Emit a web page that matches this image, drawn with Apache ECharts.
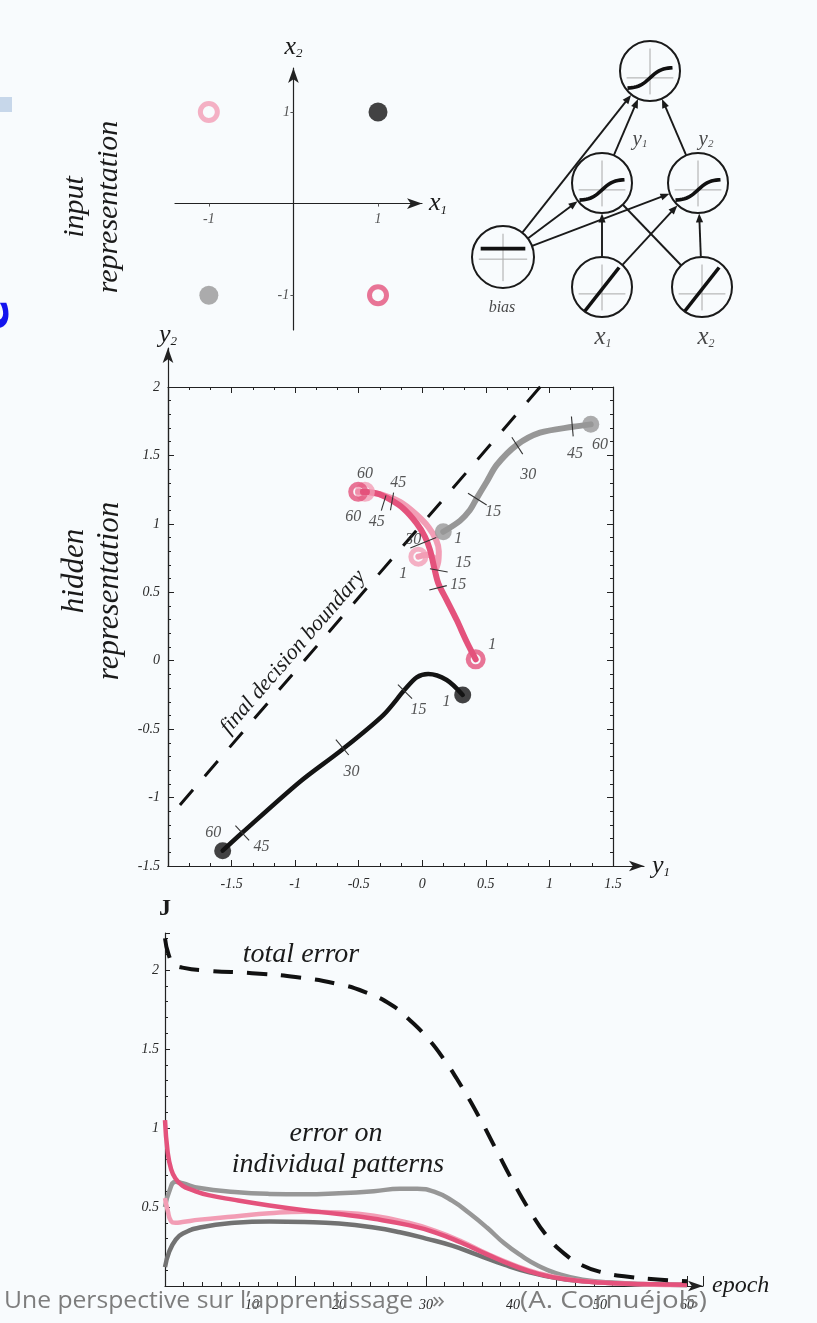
<!DOCTYPE html>
<html><head><meta charset="utf-8">
<script src="https://cdn.jsdelivr.net/npm/echarts@6/dist/echarts.min.js"></script>
<style>html,body{margin:0;padding:0;background:#f8fbfd;}#c{width:817px;height:1323px;}</style>
</head><body><div id="c"></div><script>
// ---------- DATA ----------
// input representation (XOR patterns)
const inputX = [-1, 1, -1, 1];
const inputY = [1, 1, -1, -1];
const inputTicks = [-1, 1];
// network diagram (layout units)
const nodeX = [2.47, 1.99, 2.95, 1.0, 1.99, 2.99];
const nodeY = [3.0, 1.963, 1.963, 1.278, 1.0, 1.0];
const nodeKind = ['sigmoid', 'sigmoid', 'sigmoid', 'bias', 'linear', 'linear'];
const edgeFrom = [3, 3, 3, 4, 4, 5, 5, 1, 2];
const edgeTo = [0, 1, 2, 1, 2, 1, 2, 0, 0];
const edgeArrow = [1, 1, 1, 1, 1, 0, 1, 1, 1];
const netLabelText = ['bias', 'x1', 'x2', 'y1', 'y2'];
const netLabelX = [0.99, 2.0, 3.03, 2.37, 3.03];
const netLabelY = [0.81, 0.53, 0.53, 2.37, 2.37];
// hidden representation trajectories (y1, y2)
const trajLightPink = [[-0.031,0.76],[0.04,0.775],[0.1,0.74],[0.105,0.667],[0.125,0.72],[0.13,0.8],[0.11,0.88],[0.05,0.975],[-0.055,1.075],[-0.175,1.16],[-0.307,1.21],[-0.451,1.234]];
const trajRedPink = [[0.42,0.01],[0.349,0.139],[0.271,0.297],[0.192,0.443],[0.126,0.565],[0.092,0.687],[0.061,0.809],[0.021,0.906],[-0.044,1.004],[-0.149,1.113],[-0.254,1.179],[-0.359,1.223],[-0.504,1.234]];
const trajGray = [[0.165,0.942],[0.297,1.023],[0.375,1.101],[0.428,1.186],[0.507,1.308],[0.585,1.43],[0.743,1.576],[0.926,1.666],[1.183,1.709],[1.325,1.727]];
const trajBlack = [[0.318,-0.25],[0.192,-0.141],[0.047,-0.097],[-0.044,-0.121],[-0.136,-0.209],[-0.307,-0.397],[-0.634,-0.652],[-0.962,-0.884],[-1.421,-1.261],[-1.57,-1.388]];
const boundaryLine = [[-1.906,-1.054],[0.939,2.014]];
// epoch tick marks on trajectories: [y1, y2, angle(deg), half length px]
const epochTicks = [[-0.136,-0.226,45,10],[-0.629,-0.633,50,10],[-1.416,-1.259,47,10],
  [0.433,1.181,32,11],[0.747,1.571,57,10],[1.18,1.712,85,10],
  [-0.304,1.152,-73,8],[-0.238,1.164,-80,9],[0.13,0.66,10,9],[0.124,0.533,-14,9],[0.008,0.862,-22,14]];
const hiddenLabelText = ['1','15','30','45','60', '1','15','30','45','60', '60','60','45','45','30','1','15','15','1'];
const hiddenLabelX = [0.19,-0.03,-0.556,-1.264,-1.644, 0.283,0.559,0.834,1.201,1.398, -0.451,-0.543,-0.189,-0.359,-0.071,-0.149,0.323,0.283,0.551];
const hiddenLabelY = [-0.30,-0.36,-0.81,-1.36,-1.26, 0.894,1.088,1.356,1.51,1.576, 1.364,1.052,1.30,1.015,0.882,0.638,0.716,0.553,0.115];
const hiddenXTicks = [-1.5,-1,-0.5,0,0.5,1,1.5];
const hiddenYTicks = [-1.5,-1,-0.5,0,0.5,1,1.5,2];
// error curves (epoch, J)
const errTotal = [[0,2.2],[0.4,2.1],[1,2.04],[2,2.015],[5,1.995],[10,1.98],[15,1.955],[20,1.91],[23,1.86],[26,1.78],[28,1.69],[30,1.58],[32,1.44],[34,1.27],[36,1.08],[38,0.87],[40,0.66],[42,0.47],[44,0.31],[46,0.2],[48,0.13],[50,0.09],[53,0.06],[57,0.04],[60,0.03]];
const errRedPink = [[0,1.05],[0.3,0.85],[0.7,0.74],[1.2,0.68],[2,0.635],[3,0.61],[5,0.575],[8,0.545],[12,0.51],[16,0.48],[20,0.455],[24,0.425],[28,0.385],[31,0.34],[34,0.275],[37,0.2],[40,0.13],[43,0.075],[46,0.043],[50,0.022],[55,0.012],[60,0.008]];
const errLightPink = [[0,0.556],[0.3,0.48],[0.7,0.41],[1.2,0.4],[2,0.405],[4,0.42],[8,0.44],[12,0.46],[16,0.47],[20,0.465],[24,0.445],[28,0.4],[31,0.35],[34,0.285],[37,0.205],[40,0.135],[43,0.08],[46,0.045],[50,0.022],[55,0.01],[60,0.006]];
const errGrayUpper = [[0,0.5],[0.5,0.6],[1.2,0.66],[2,0.65],[4,0.62],[8,0.595],[12,0.583],[16,0.58],[20,0.587],[24,0.6],[27,0.615],[29,0.615],[31,0.595],[33,0.54],[35,0.46],[37,0.37],[39,0.27],[41,0.19],[43,0.125],[45,0.08],[48,0.04],[52,0.02],[56,0.01],[60,0.007]];
const errGrayLower = [[0,0.12],[0.5,0.22],[1.2,0.29],[2,0.33],[4,0.37],[8,0.4],[12,0.408],[16,0.405],[20,0.395],[24,0.37],[27,0.34],[30,0.3],[33,0.255],[36,0.195],[39,0.135],[42,0.085],[45,0.05],[48,0.03],[52,0.016],[56,0.009],[60,0.006]];
const errXLabels = [10,20,30,40,50,60];
const errYLabels = [0.5,1,1.5,2];

// ---------- STYLE ----------
const SERIF = "'Liberation Serif','DejaVu Serif',serif";
const BG = '#f8fbfd';
const C = { lightPink:'#f29db5', redPink:'#e4527c', gray:'#979797', grayDark:'#727272', black:'#141414' };
const inputColor = [C.lightPink, C.black, C.gray, C.redPink];
const inputHollow = [true, false, false, true];
const lblStyle = (fs) => ({ fontFamily:SERIF, fontStyle:'italic', fontSize:fs, color:'#2a2a2a' });
const subRich = (big, small) => ({
  v:{ fontFamily:SERIF, fontStyle:'italic', fontSize:big, color:'#1a1a1a' },
  s:{ fontFamily:SERIF, fontStyle:'italic', fontSize:small, color:'#1a1a1a', verticalAlign:'bottom' }
});
const subText = (t) => /^[a-z][0-9]$/.test(t) ? '{v|' + t[0] + '}{s|' + t[1] + '}' : t;
const axisCol = '#222';

const chart = echarts.init(document.getElementById('c'), null, { renderer:'canvas' });

function renderNode(params, api) {
  const c = api.coord([api.value(0), api.value(1)]);
  const kind = api.value(2);
  const r = kind === 1 ? 31 : 30;
  const dy = kind === 1 ? 0.07 * r : 0.23 * r;
  const children = [
    { type:'circle', shape:{ cx:c[0], cy:c[1], r:r }, style:{ fill:BG, stroke:'#1a1a1a', lineWidth:2 } },
    { type:'line', shape:{ x1:c[0]-0.78*r, y1:c[1]+dy, x2:c[0]+0.78*r, y2:c[1]+dy }, style:{ stroke:'#a8a8a8', lineWidth:1 } },
    { type:'line', shape:{ x1:c[0], y1:c[1]-0.75*r, x2:c[0], y2:c[1]+0.78*r }, style:{ stroke:'#a8a8a8', lineWidth:1 } }
  ];
  let pts = [];
  if (kind === 0) {
    for (let i = 0; i <= 20; i++) { const t = -1 + i / 10; pts.push([c[0] + 0.75*r*t, c[1] + dy - 0.34*r*Math.tanh(2*t)/Math.tanh(2)]); }
  } else if (kind === 1) {
    pts = [[c[0]-0.72*r, c[1]-0.27*r], [c[0]+0.72*r, c[1]-0.27*r]];
  } else {
    pts = [[c[0]-0.57*r, c[1]+0.8*r], [c[0]+0.57*r, c[1]-0.65*r]];
  }
  children.push({ type:'polyline', shape:{ points:pts }, style:{ stroke:'#111', lineWidth:3.6, fill:null } });
  return { type:'group', children };
}
function renderEdge(params, api) {
  const f = api.value(0), t = api.value(1), arrow = api.value(2);
  const a = api.coord([nodeX[f], nodeY[f]]);
  const b = api.coord([nodeX[t], nodeY[t]]);
  const dx = b[0]-a[0], dy = b[1]-a[1], L = Math.hypot(dx, dy), ux = dx/L, uy = dy/L;
  const r = 30.5;
  const s = [a[0]+ux*r, a[1]+uy*r], e = [b[0]-ux*r, b[1]-uy*r];
  const head = arrow ? 9 : 0;
  const children = [{ type:'line', shape:{ x1:s[0], y1:s[1], x2:e[0]-ux*head*0.6, y2:e[1]-uy*head*0.6 }, style:{ stroke:'#1a1a1a', lineWidth:1.9 } }];
  if (arrow) {
    const bx = e[0]-ux*head, by = e[1]-uy*head;
    children.push({ type:'polygon', shape:{ points:[[e[0],e[1]],[bx-uy*3.6,by+ux*3.6],[bx+uy*3.6,by-ux*3.6]] }, style:{ fill:'#1a1a1a' } });
  }
  return { type:'group', children };
}
function renderTick(params, api) {
  const p = api.coord([api.value(0), api.value(1)]);
  const a = api.value(2) * Math.PI / 180, h = api.value(3);
  return { type:'line', shape:{ x1:p[0]-Math.cos(a)*h, y1:p[1]-Math.sin(a)*h, x2:p[0]+Math.cos(a)*h, y2:p[1]+Math.sin(a)*h }, style:{ stroke:'#333', lineWidth:1.1 } };
}

const kindIndex = { sigmoid:0, bias:1, linear:2 };
const endMarkers = (traj, color, hollow, size) => ({
  type:'scatter', xAxisIndex:2, yAxisIndex:2, symbol:'circle', symbolSize:size, z:6,
  data:[traj[0], traj[traj.length-1]],
  itemStyle: hollow ? { color:'rgba(0,0,0,0)', borderColor:color, borderWidth:5 } : { color:color }
});
const trajLine = (traj, color, w) => ({
  type:'line', xAxisIndex:2, yAxisIndex:2, data:traj, smooth:0.3, symbol:'none', z:4,
  lineStyle:{ color:color, width:w, cap:'round', join:'round' }
});
const errLine = (d, color, w, dash) => ({
  type:'line', xAxisIndex:5, yAxisIndex:5, data:d, smooth:0.5, symbol:'none', z:4,
  lineStyle:{ color:color, width:w, type: dash || 'solid', cap:'butt', join:'round' }
});

// footer pieces (text fitted to the reference's widths)
const footerFont = '24px "Open Sans"';
const mctx = document.createElement('canvas').getContext('2d');
mctx.font = footerFont;
const footerPieces = [
  { text:'Une perspective sur l\u2019apprentissage', x:4, w:409 },
  { text:'\u00bb', x:432, w:13 },
  { text:'(A. Cornu\u00e9jols)', x:520, w:187 }
];
const footerGraphics = footerPieces.map(p => ({
  type:'text', x:p.x, y:1301, scaleX: p.w / mctx.measureText(p.text).width, z:100,
  style:{ text:p.text, font:footerFont, fill:'#7d7d7d', align:'left', verticalAlign:'middle' }
}));

const option = {
  backgroundColor: BG,
  animation: false,
  grid: [
    { left:175, top:68, width:247, height:262 },
    { left:403, top:6.2, width:400, height:388.8 },
    { left:168, top:387, width:445, height:479 },
    { left:168, top:348, width:476, height:518 },
    { left:165, top:933, width:538, height:353 }
  ],
  xAxis: [
    { gridIndex:0, type:'value', min:-1.4, max:1.52,
      axisLine:{ onZero:true, symbol:['none','arrow'], symbolSize:[8,15], lineStyle:{ color:axisCol, width:1.2 } },
      axisTick:{ customValues:inputTicks, length:3, lineStyle:{ color:'#555' } },
      axisLabel:{ show:false },
      splitLine:{ show:false },
      name:subText('x1'), nameLocation:'end', nameGap:7, nameTextStyle:{ rich:subRich(26,13) } },
    { gridIndex:1, type:'value', min:0, max:4, show:false },
    { gridIndex:2, type:'value', min:-2, max:1.5, interval:0.5, position:'bottom',
      axisLine:{ onZero:false, lineStyle:{ color:axisCol, width:1.2 } },
      axisTick:{ inside:true, length:6, lineStyle:{ color:axisCol } },
      minorTick:{ show:true, splitNumber:3, length:3, lineStyle:{ color:axisCol } },
      axisLabel:{ customValues:hiddenXTicks, margin:11, ...lblStyle(14) },
      splitLine:{ show:false } },
    { gridIndex:2, type:'value', min:-2, max:1.5, interval:0.5, position:'top',
      axisLine:{ onZero:false, lineStyle:{ color:axisCol, width:1.2 } },
      axisTick:{ inside:true, length:6, lineStyle:{ color:axisCol } },
      minorTick:{ show:true, splitNumber:3, length:3, lineStyle:{ color:axisCol } },
      axisLabel:{ show:false }, splitLine:{ show:false } },
    { gridIndex:3, type:'value', min:-2, max:1.744,
      axisLine:{ onZero:false, symbol:['none','arrow'], symbolSize:[8,15], lineStyle:{ color:axisCol, width:1.2 } },
      axisTick:{ show:false }, axisLabel:{ show:false }, splitLine:{ show:false },
      name:subText('y1'), nameLocation:'end', nameGap:8, nameTextStyle:{ rich:subRich(26,13) } },
    { gridIndex:4, type:'value', min:0, max:61.84, interval:15,
      axisLine:{ onZero:false, symbol:['none','arrow'], symbolSize:[8,15], lineStyle:{ color:axisCol, width:1.2 } },
      axisTick:{ inside:true, length:10, lineStyle:{ color:axisCol } },
      minorTick:{ show:true, splitNumber:7, length:4, lineStyle:{ color:axisCol } },
      axisLabel:{ customValues:errXLabels, margin:12, ...lblStyle(14) },
      splitLine:{ show:false },
      name:'epoch', nameLocation:'end', nameGap:9, nameTextStyle:{ fontFamily:SERIF, fontStyle:'italic', fontSize:24, color:'#1a1a1a' } }
  ],
  yAxis: [
    { gridIndex:0, type:'value', min:-1.38, max:1.48,
      axisLine:{ onZero:true, symbol:['none','arrow'], symbolSize:[8,15], lineStyle:{ color:axisCol, width:1.2 } },
      axisTick:{ customValues:inputTicks, length:3, lineStyle:{ color:'#555' } },
      axisLabel:{ show:false },
      splitLine:{ show:false },
      name:subText('x2'), nameLocation:'end', nameGap:8, nameTextStyle:{ rich:subRich(26,13) } },
    { gridIndex:1, type:'value', min:0, max:3.6, show:false },
    { gridIndex:2, type:'value', min:-1.5, max:2, interval:0.5, position:'left',
      axisLine:{ onZero:false, lineStyle:{ color:axisCol, width:1.2 } },
      axisTick:{ inside:true, length:6, lineStyle:{ color:axisCol } },
      minorTick:{ show:true, splitNumber:5, length:3, lineStyle:{ color:axisCol } },
      axisLabel:{ customValues:hiddenYTicks, margin:8, ...lblStyle(14) },
      splitLine:{ show:false } },
    { gridIndex:2, type:'value', min:-1.5, max:2, interval:0.5, position:'right',
      axisLine:{ onZero:false, lineStyle:{ color:axisCol, width:1.2 } },
      axisTick:{ inside:true, length:6, lineStyle:{ color:axisCol } },
      minorTick:{ show:true, splitNumber:5, length:3, lineStyle:{ color:axisCol } },
      axisLabel:{ show:false }, splitLine:{ show:false } },
    { gridIndex:3, type:'value', min:-1.5, max:2.284,
      axisLine:{ onZero:false, symbol:['none','arrow'], symbolSize:[8,15], lineStyle:{ color:axisCol, width:1.2 } },
      axisTick:{ show:false }, axisLabel:{ show:false }, splitLine:{ show:false },
      name:subText('y2'), nameLocation:'end', nameGap:0, nameTextStyle:{ rich:subRich(26,13) } },
    { gridIndex:4, type:'value', min:0, max:2.234, interval:0.5,
      axisLine:{ onZero:false, lineStyle:{ color:axisCol, width:1.2 } },
      axisTick:{ inside:true, length:5, lineStyle:{ color:axisCol } },
      minorTick:{ show:true, splitNumber:5, length:3, lineStyle:{ color:axisCol } },
      axisLabel:{ customValues:errYLabels, margin:6, ...lblStyle(14) },
      splitLine:{ show:false },
      name:'J', nameLocation:'end', nameGap:12, nameTextStyle:{ fontFamily:SERIF, fontWeight:'bold', fontSize:24, color:'#1a1a1a' } }
  ],
  series: [
    // input representation
    { type:'scatter', xAxisIndex:0, yAxisIndex:0, symbol:'circle', z:5,
      data: inputX.map((x, i) => ({ value:[x, inputY[i]], symbolSize: inputHollow[i] ? 17 : 19,
        itemStyle: inputHollow[i] ? { color:'rgba(0,0,0,0)', borderColor:inputColor[i], borderWidth:5 } : { color:inputColor[i] } })) },
    // input tick labels next to the crossing axes
    { type:'scatter', xAxisIndex:0, yAxisIndex:0, symbolSize:0, z:5,
      data: inputTicks.map(v => ({ value:[v, 0], name:String(v), label:{ offset:[0, 16] } }))
        .concat(inputTicks.map(v => ({ value:[0, v], name:String(v), label:{ offset:[v < 0 ? -10 : -7, 0] } }))),
      label:{ show:true, position:'inside', formatter:'{b}', ...lblStyle(14) } },
    // network
    { type:'custom', xAxisIndex:1, yAxisIndex:1, renderItem:renderEdge, clip:false, z:3,
      data: edgeFrom.map((f, i) => [f, edgeTo[i], edgeArrow[i]]) },
    { type:'custom', xAxisIndex:1, yAxisIndex:1, renderItem:renderNode, clip:false, z:4,
      data: nodeX.map((x, i) => [x, nodeY[i], kindIndex[nodeKind[i]]]) },
    { type:'scatter', xAxisIndex:1, yAxisIndex:1, symbolSize:0, z:5,
      data: netLabelText.map((t, i) => ({ value:[netLabelX[i], netLabelY[i]], name:t,
        label:{ show:true, position:'inside', formatter: subText(t),
          rich: t === 'bias' ? {} : subRich(t[0] === 'x' ? 25 : 21, t[0] === 'x' ? 12 : 11),
          fontFamily:SERIF, fontStyle:'italic', fontSize:16, color:'#1a1a1a' } })) },
    // hidden representation
    { type:'line', xAxisIndex:2, yAxisIndex:2, data:boundaryLine, symbol:'none', z:2,
      lineStyle:{ color:'#111', width:3, type:[20,18], cap:'butt' } },
    trajLine(trajLightPink, C.lightPink, 6),
    trajLine(trajRedPink, C.redPink, 6),
    trajLine(trajGray, C.gray, 6),
    trajLine(trajBlack, C.black, 4.5),
    endMarkers(trajLightPink, C.lightPink, true, 15),
    endMarkers(trajRedPink, C.redPink, true, 15),
    endMarkers(trajGray, C.gray, false, 17),
    endMarkers(trajBlack, C.black, false, 17),
    { type:'custom', xAxisIndex:2, yAxisIndex:2, renderItem:renderTick, z:7, data:epochTicks },
    { type:'scatter', xAxisIndex:2, yAxisIndex:2, symbolSize:0, z:8,
      data: hiddenLabelText.map((t, i) => ({ value:[hiddenLabelX[i], hiddenLabelY[i]], name:t })),
      label:{ show:true, position:'inside', formatter:'{b}', ...lblStyle(16) } },
    // error curves
    errLine(errGrayLower, C.grayDark, 4.5),
    errLine(errGrayUpper, C.gray, 4.5),
    errLine(errLightPink, C.lightPink, 4.5),
    errLine(errRedPink, C.redPink, 4.5),
    errLine(errTotal, '#111', 4, [20,14])
  ],
  graphic: [
    { type:'rect', shape:{ x:0, y:97, width:12, height:15 }, style:{ fill:'#c7d7ea' } },
    { type:'text', x:-4, y:315, rotation:Math.PI/2, style:{ text:'e', font:'bold 46px "DejaVu Sans"', fill:'#1414ee', align:'center', verticalAlign:'middle' } },
    { type:'text', x:75, y:207, rotation:Math.PI/2, style:{ text:'input', font:'italic 30px ' + SERIF, fill:'#1a1a1a', align:'center', verticalAlign:'middle' } },
    { type:'text', x:109, y:207, rotation:Math.PI/2, style:{ text:'representation', font:'italic 30px ' + SERIF, fill:'#1a1a1a', align:'center', verticalAlign:'middle' } },
    { type:'text', x:75, y:571, rotation:Math.PI/2, style:{ text:'hidden', font:'italic 31px ' + SERIF, fill:'#1a1a1a', align:'center', verticalAlign:'middle' } },
    { type:'text', x:110, y:591, rotation:Math.PI/2, style:{ text:'representation', font:'italic 31px ' + SERIF, fill:'#1a1a1a', align:'center', verticalAlign:'middle' } },
    { type:'text', x:293, y:652, rotation:49*Math.PI/180, style:{ text:'final decision boundary', font:'italic 22px ' + SERIF, fill:'#1a1a1a', align:'center', verticalAlign:'middle' } },
    { type:'text', x:301, y:955, style:{ text:'total error', font:'italic 28px ' + SERIF, fill:'#1a1a1a', align:'center', verticalAlign:'middle' } },
    { type:'text', x:336, y:1134, style:{ text:'error on', font:'italic 28px ' + SERIF, fill:'#1a1a1a', align:'center', verticalAlign:'middle' } },
    { type:'text', x:338, y:1165, style:{ text:'individual patterns', font:'italic 28px ' + SERIF, fill:'#1a1a1a', align:'center', verticalAlign:'middle' } }
  ].concat(footerGraphics)
};
chart.setOption(option);
</script></body></html>
